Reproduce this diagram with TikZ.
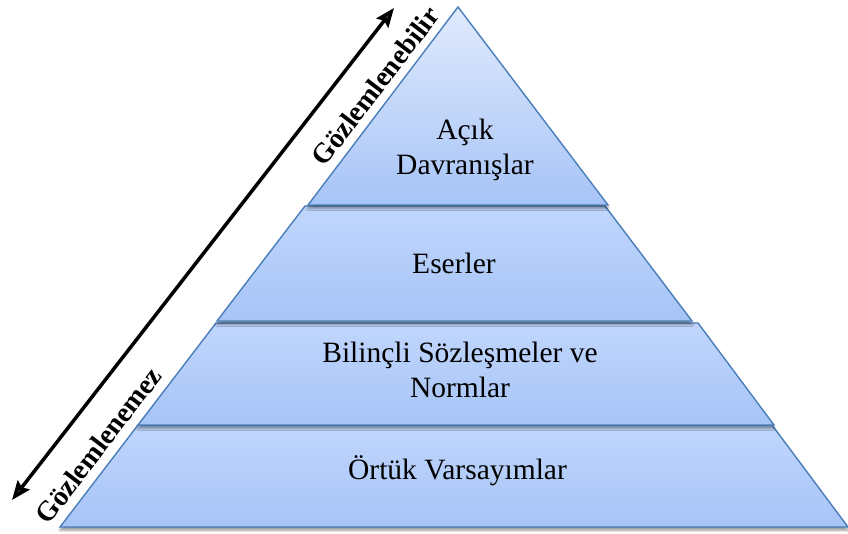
\documentclass[tikz,border=0pt]{standalone}
\usepackage{fontspec}
\setmainfont{Liberation Serif}
\usetikzlibrary{arrows.meta,shadows.blur}

\definecolor{edgeblue}{HTML}{4A7EBB}
\definecolor{apexTop}{HTML}{E0EAFC}
\definecolor{layerTop}{HTML}{C0D6FC}
\definecolor{layerBot}{HTML}{A7C4F7}

\begin{document}
\begin{tikzpicture}[x=1pt,y=-1pt,
  layer/.style={draw=edgeblue, line width=1.4pt, line join=miter,
    top color=layerTop, bottom color=layerBot,
    blur shadow={shadow xshift=0pt, shadow yshift=-3pt,
      shadow blur radius=2.5pt, shadow opacity=45}},
  apex/.style={layer, top color=apexTop},
  lvltext/.style={font=\fontsize{29.5}{35}\selectfont, align=center,
    inner sep=0pt, text=black},
  sidelabel/.style={font=\bfseries\fontsize{28}{32}\selectfont,
    fill=white, rotate=52.6, inner sep=2pt, anchor=base},
  dualarrow/.style={line width=3.5pt,
    {Stealth[length=19pt,width=15pt,inset=3pt]}-{Stealth[length=19pt,width=15pt,inset=3pt]}}]

\useasboundingbox (0,0) rectangle (848,534);

% pyramid layers, bottom to top so each shadow falls on the layer below
\path[layer] (138,425) -- (772,425) -- (848,527) -- (60,527) -- cycle;
\path[layer] (216,323) -- (698,323) -- (774,425) -- (138,425) -- cycle;
\path[layer] (305,206) -- (605,206) -- (692,321) -- (217,321) -- cycle;
\path[apex] (458,7) -- (608,205) -- (308,205) -- cycle;

% layer captions
\node[lvltext] (overt) at (465,150) {Açık\\Davranışlar};
\node[lvltext, anchor=base] (artifacts) at (454,274) {Eserler};
\node[lvltext] (norms) at (460,370) {Bilinçli Sözleşmeler ve\\Normlar};
\node[lvltext, anchor=base] (assumptions) at (457.5,479) {Örtük Varsayımlar};

% side captions along the left slope
\node[sidelabel] (observable) at (383,92) {Gözlemlenebilir};
\node[sidelabel] (unobservable) at (106,451) {Gözlemlenemez};

% double-headed arrow parallel to the slope
\coordinate (arrowLow) at (12,500);
\coordinate (arrowHigh) at (394,8);
\draw[dualarrow] (arrowLow) -- (arrowHigh);
\end{tikzpicture}
\end{document}
